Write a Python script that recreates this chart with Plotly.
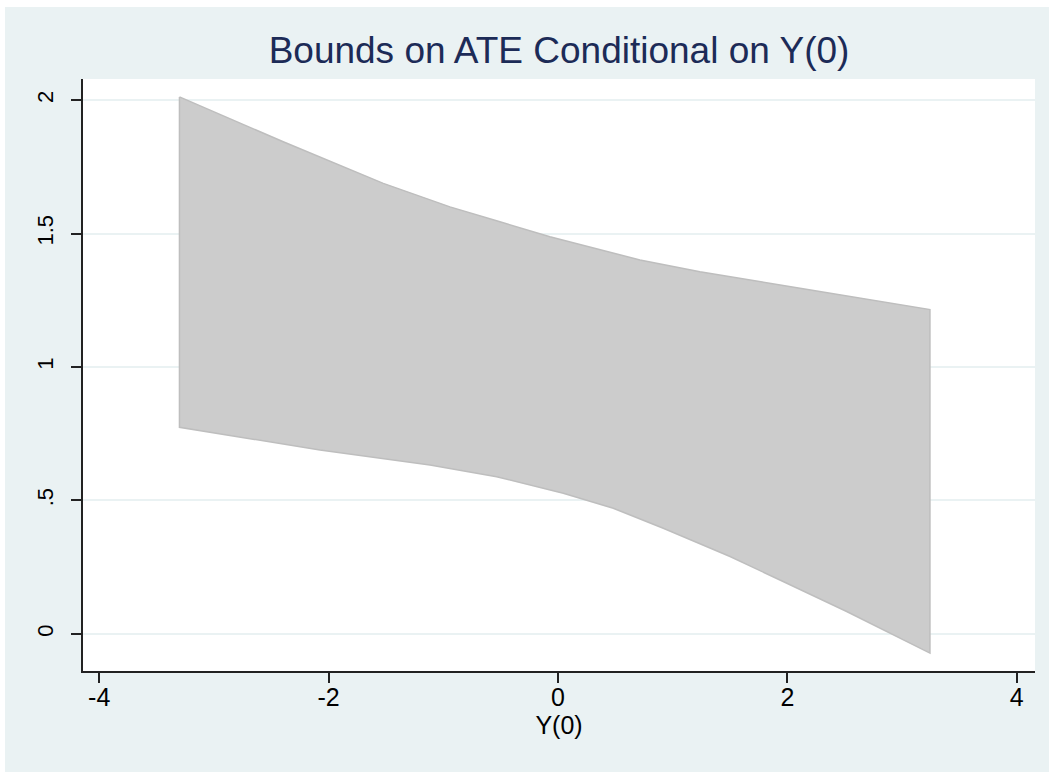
import plotly.graph_objects as go

# Data (upper and lower bound curves)
upper_x = [-3.30, -2.395, -1.523, -0.942, -0.506, -0.070, 0.715, 1.238, 2.110, 3.243]
upper_y = [2.012, 1.844, 1.688, 1.600, 1.544, 1.488, 1.401, 1.357, 1.295, 1.215]
lower_x = [-3.30, -2.075, -1.116, -0.535, 0.046, 0.482, 0.918, 1.500, 1.935, 2.517, 3.243]
lower_y = [0.774, 0.689, 0.633, 0.589, 0.527, 0.471, 0.396, 0.290, 0.202, 0.084, -0.072]

x_ticks = [-4, -2, 0, 2, 4]
x_tick_labels = ["-4", "-2", "0", "2", "4"]
y_ticks = [0, 0.5, 1, 1.5, 2]
y_tick_labels = ["0", ".5", "1", "1.5", "2"]

BG = "#EAF2F3"
FONT = "Liberation Sans, Arial, sans-serif"

poly_x = upper_x + lower_x[::-1] + [upper_x[0]]
poly_y = upper_y + lower_y[::-1] + [upper_y[0]]

fig = go.Figure()
fig.add_trace(go.Scatter(
    x=poly_x, y=poly_y, mode="lines", fill="toself",
    fillcolor="#CCCCCC", line=dict(color="#BEBEBE", width=1.5),
    showlegend=False, hoverinfo="skip",
))

# figure placed at (5, 7) in the window, filling the rest of it
W, H = 1044, 765
L, R, T, B = 78, 14, 72, 101
pw, ph = W - L - R, H - T - B

fig.update_layout(
    width=W, height=H,
    margin=dict(l=L, r=R, t=T, b=B),
    paper_bgcolor=BG, plot_bgcolor="white",
    font=dict(family=FONT, color="black"),
    title=dict(text="Bounds on ATE Conditional on Y(0)",
               font=dict(family=FONT, size=37, color="#1C2B57"),
               x=(L + pw / 2) / W, xanchor="center",
               y=(H - 43) / H, yanchor="middle", yref="container"),
    xaxis=dict(
        range=[-4.141, 4.159], tickmode="array", tickvals=x_ticks, ticktext=x_tick_labels,
        showgrid=False, zeroline=False, showline=True, linecolor="#222222", linewidth=1.5,
        ticks="outside", ticklen=10, tickwidth=1.5, tickcolor="#222222",
        tickfont=dict(family=FONT, size=25, color="black"),
        ticklabelstandoff=-7,
        title=dict(text="Y(0)", font=dict(family=FONT, size=25, color="black"), standoff=0),
    ),
    yaxis=dict(
        range=[-0.139, 2.079], tickmode="array", tickvals=y_ticks, ticktext=y_tick_labels,
        showgrid=True, gridcolor="#EAF2F3", gridwidth=2, zeroline=False,
        showline=True, linecolor="#222222", linewidth=1.5,
        ticks="outside", ticklen=10, tickwidth=1.5, tickcolor="#222222",
        tickangle=-90, tickfont=dict(family=FONT, size=22, color="black"),
        ticklabelstandoff=9,
    ),
)

fig.write_html(
    "out.html",
    post_script="document.body.style.margin='7px 0 0 5px';document.body.style.overflow='hidden';",
)
